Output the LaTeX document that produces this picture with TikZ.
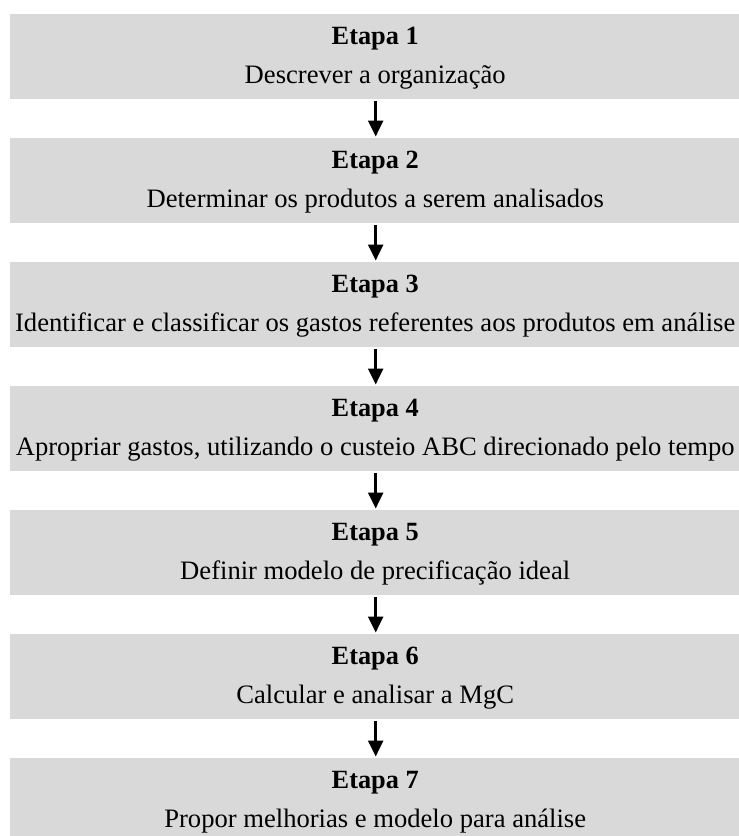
\documentclass[tikz,border=0pt]{standalone}
\usepackage{fontspec}
\setmainfont{Liberation Serif}
\usetikzlibrary{arrows.meta}
\definecolor{boxgray}{HTML}{D9D9D9}
\begin{document}
\begin{tikzpicture}[x=1pt,y=-1pt,
  stage/.style={fill=boxgray, draw=none, minimum width=730pt, minimum height=85pt,
    inner sep=0pt, anchor=north west},
  steptitle/.style={font=\fontsize{26.3}{30}\selectfont\bfseries, anchor=base, inner sep=0pt},
  steptext/.style={font=\fontsize{26.6}{30}\selectfont, anchor=base, inner sep=0pt},
  flow/.style={line width=2.5pt, -{Triangle[length=16pt,width=15pt]}}]
\useasboundingbox (0,0) rectangle (739,836);
\clip (0,0) rectangle (739,836);
\foreach \i/\t in {1/{Descrever a organização},
  2/{Determinar os produtos a serem analisados},
  3/{Identificar e classificar os gastos referentes aos produtos em análise},
  4/{Apropriar gastos, utilizando o custeio ABC direcionado pelo tempo},
  5/{Definir modelo de precificação ideal},
  6/{Calcular e analisar a MgC},
  7/{Propor melhorias e modelo para análise}} {
  \node[stage] (s\i) at (10, {14+124*(\i-1)}) {};
  \node[steptitle] (h\i) at ([yshift=-30.5pt]s\i.north) {Etapa \i};
  \node[steptext] (d\i) at ([yshift=-69pt]s\i.north) {\t};
}
\foreach \i [evaluate=\i as \j using int(\i+1)] in {1,...,6}
  \draw[flow] ([xshift=0.5pt,yshift=-1.5pt]s\i.south) -- ([xshift=0.5pt,yshift=1.5pt]s\j.north);
\end{tikzpicture}
\end{document}
